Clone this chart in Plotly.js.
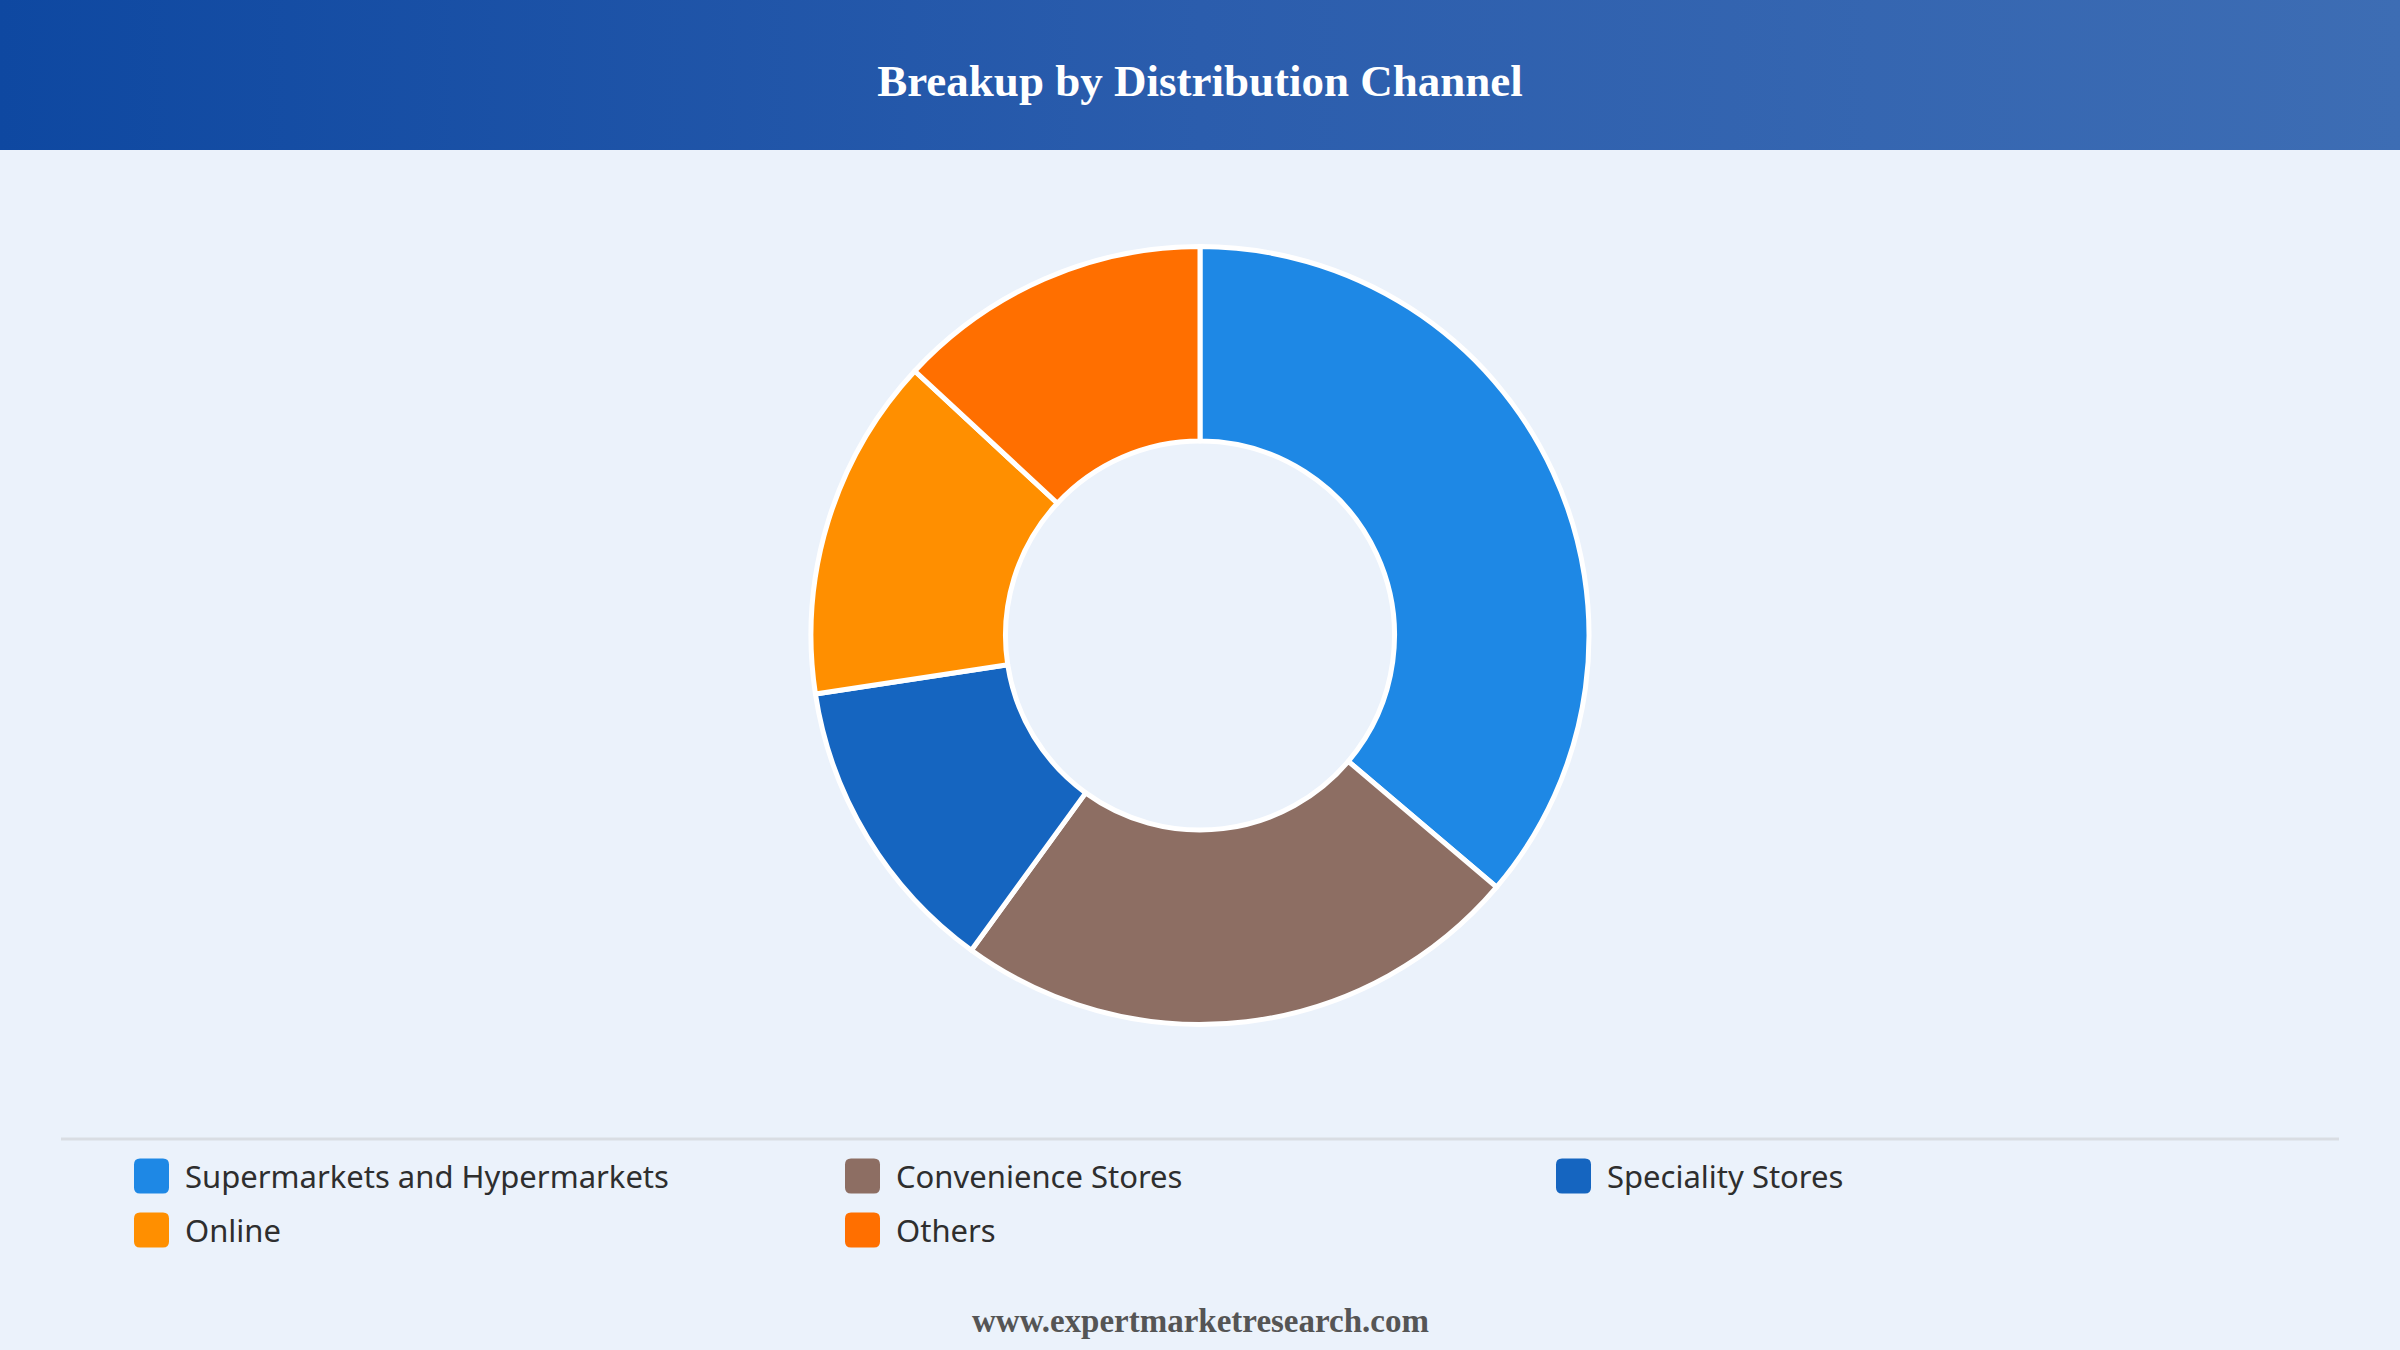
<!DOCTYPE html>
<html>
<head>
<meta charset="utf-8">
<script src="https://cdn.plot.ly/plotly-3.0.1.min.js"></script>
<style>
  html, body { margin: 0; padding: 0; background: #EBF2FB; }
  #wrap { position: relative; width: 2400px; height: 1350px; overflow: hidden; background: #EBF2FB; }
  #header { position: absolute; left: 0; top: 0; width: 2400px; height: 150px;
            background: linear-gradient(90deg, #0E48A1 0%, #2B5DAD 50%, #3D6DB4 100%); }
  #chart { position: absolute; left: 0; top: 0; width: 2400px; height: 1350px; }
</style>
</head>
<body>
<div id="wrap">
  <div id="header"></div>
  <div id="chart"></div>
</div>
<script>
// ---- data ----
const chartTitle = "Breakup by Distribution Channel";
const categories = ["Supermarkets and Hypermarkets", "Convenience Stores", "Speciality Stores", "Online", "Others"];
const shares = [36.2, 23.8, 12.6, 14.3, 13.1];
const sliceColors = ["#1E88E5", "#8D6E63", "#1565C0", "#FF8F00", "#FF6F00"];
const footerText = "www.expertmarketresearch.com";

// ---- layout helpers (pixel -> paper) ----
const W = 2400, H = 1350;
const px = x => x / W;
const py = y => 1 - y / H;

const trace = {
  type: "pie",
  labels: categories,
  values: shares,
  marker: { colors: sliceColors, line: { color: "#FFFFFF", width: 5 } },
  hole: 0.5,
  sort: false,
  direction: "clockwise",
  rotation: 0,
  textinfo: "none",
  hoverinfo: "label+percent",
  showlegend: false,
  domain: { x: [0, 1], y: [py(1024.5), py(246.5)] }
};

// custom legend: rounded swatches + labels, 3 columns
const colX = [134, 845, 1556];
const rowY = [1176, 1230];
const sw = 35, rad = 6;
const shapes = [{
  type: "line", xref: "paper", yref: "paper",
  x0: px(61), x1: px(2339), y0: py(1139), y1: py(1139),
  line: { color: "#D9DDE3", width: 3 }
}];
const annotations = [];
categories.forEach((c, i) => {
  const col = i % 3, row = Math.floor(i / 3);
  const x0 = colX[col], x1 = x0 + sw;
  const y0 = rowY[row] - sw / 2, y1 = rowY[row] + sw / 2;
  const path = [
    `M${px(x0 + rad)},${py(y0)}`,
    `L${px(x1 - rad)},${py(y0)}`,
    `Q${px(x1)},${py(y0)} ${px(x1)},${py(y0 + rad)}`,
    `L${px(x1)},${py(y1 - rad)}`,
    `Q${px(x1)},${py(y1)} ${px(x1 - rad)},${py(y1)}`,
    `L${px(x0 + rad)},${py(y1)}`,
    `Q${px(x0)},${py(y1)} ${px(x0)},${py(y1 - rad)}`,
    `L${px(x0)},${py(y0 + rad)}`,
    `Q${px(x0)},${py(y0)} ${px(x0 + rad)},${py(y0)}`,
    "Z"
  ].join(" ");
  shapes.push({
    type: "path", xref: "paper", yref: "paper", path: path,
    fillcolor: sliceColors[i], line: { width: 0 }
  });
  annotations.push({
    xref: "paper", yref: "paper", x: px(x1 + 14), y: py(rowY[row]),
    xanchor: "left", yanchor: "middle", showarrow: false,
    text: c, font: { family: "Noto Sans, Open Sans, sans-serif", size: 31, color: "#2E2E2E" }
  });
});
annotations.push({
  xref: "paper", yref: "paper", x: 0.5, y: py(1321),
  xanchor: "center", yanchor: "middle", showarrow: false,
  text: "<b>" + footerText + "</b>",
  font: { family: "Liberation Serif, Times New Roman, serif", size: 33, color: "#555555" }
});

const layout = {
  width: W, height: H,
  margin: { l: 0, r: 0, t: 0, b: 0 },
  paper_bgcolor: "rgba(0,0,0,0)",
  plot_bgcolor: "rgba(0,0,0,0)",
  title: {
    text: "<b>" + chartTitle + "</b>",
    x: 0.5, xanchor: "center",
    y: py(80), yanchor: "middle", yref: "container",
    font: { family: "Liberation Serif, Times New Roman, serif", size: 45, color: "#FFFFFF" }
  },
  shapes: shapes,
  annotations: annotations
};

Plotly.newPlot("chart", [trace], layout, { displayModeBar: false, staticPlot: true });
</script>
</body>
</html>
